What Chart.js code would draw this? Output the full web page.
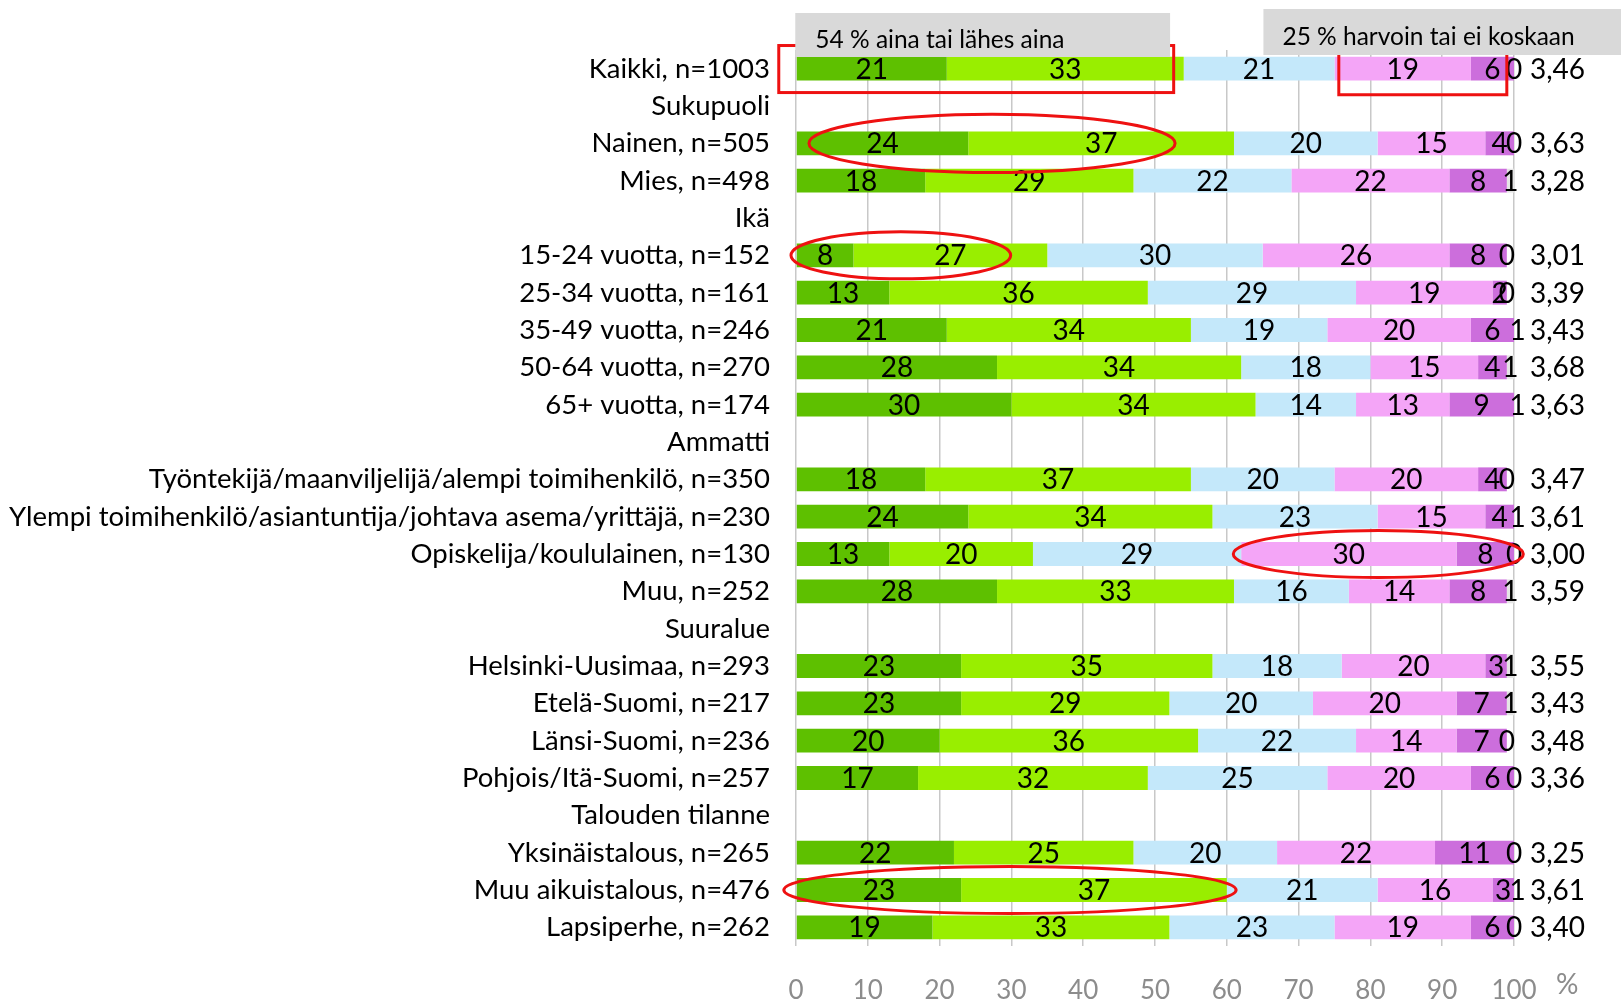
<!DOCTYPE html>
<html>
<head>
<meta charset="utf-8">
<script src="https://cdn.jsdelivr.net/npm/chart.js@4"></script>
<style>
  body { margin: 0; background: #fff; }
  #wrap { width: 1621px; height: 1000px; position: relative; }
</style>
</head>
<body>
<div id="wrap"><canvas id="chart"></canvas></div>
<script>
const categories = [
    'Kaikki, n=1003', 'Sukupuoli', 'Nainen, n=505', 'Mies, n=498', 'Ikä',
    '15-24 vuotta, n=152', '25-34 vuotta, n=161', '35-49 vuotta, n=246', '50-64 vuotta, n=270', '65+ vuotta, n=174',
    'Ammatti', 'Työntekijä/maanviljelijä/alempi toimihenkilö, n=350',
    'Ylempi toimihenkilö/asiantuntija/johtava asema/yrittäjä, n=230',
    'Opiskelija/koululainen, n=130', 'Muu, n=252',
    'Suuralue', 'Helsinki-Uusimaa, n=293', 'Etelä-Suomi, n=217', 'Länsi-Suomi, n=236', 'Pohjois/Itä-Suomi, n=257',
    'Talouden tilanne', 'Yksinäistalous, n=265', 'Muu aikuistalous, n=476', 'Lapsiperhe, n=262'
];

const alwaysVals  = [21, null, 24, 18, null, 8, 13, 21, 28, 30, null, 18, 24, 13, 28, null, 23, 23, 20, 17, null, 22, 23, 19];
const almostVals  = [33, null, 37, 29, null, 27, 36, 34, 34, 34, null, 37, 34, 20, 33, null, 35, 29, 36, 32, null, 25, 37, 33];
const sometimes   = [21, null, 20, 22, null, 30, 29, 19, 18, 14, null, 20, 23, 29, 16, null, 18, 20, 22, 25, null, 20, 21, 23];
const rarely      = [19, null, 15, 22, null, 26, 19, 20, 15, 13, null, 20, 15, 30, 14, null, 20, 20, 14, 20, null, 22, 16, 19];
const never       = [6, null, 4, 8, null, 8, 2, 6, 4, 9, null, 4, 4, 8, 8, null, 3, 7, 7, 6, null, 11, 3, 6];
const dontKnow    = [0, null, 0, 1, null, 0, 0, 1, 1, 1, null, 0, 1, 0, 1, null, 1, 1, 0, 0, null, 0, 1, 0];
const means = ['3,46', '', '3,63', '3,28', '', '3,01', '3,39', '3,43', '3,68', '3,63', '',
    '3,47', '3,61', '3,00', '3,59', '', '3,55', '3,43', '3,48', '3,36', '', '3,25', '3,61', '3,40'];

const xTicks = [0, 10, 20, 30, 40, 50, 60, 70, 80, 90, 100];

const FONT = 'Lato';

// annotations in data units: x in %, y in row index
const ellipses = [
    { row: 2, x0: 1.8, x1: 52.8, ry: 0.78 },
    { row: 5, x0: -0.7, x1: 29.9, ry: 0.63 },
    { row: 13, x0: 60.9, x1: 101.3, ry: 0.63 },
    { row: 22, x0: -1.7, x1: 61.3, ry: 0.63 }
];

const annotations = {
    id: 'annotations',
    afterDatasetsDraw(chart) {
        const ctx = chart.ctx;
        const xs = chart.scales.x;
        const ys = chart.scales.y;
        const area = chart.chartArea;
        const rowH = ys.getPixelForValue(1) - ys.getPixelForValue(0);

        // segment labels
        ctx.save();
        ctx.fillStyle = '#000';
        ctx.font = `28px ${FONT}`;
        ctx.textAlign = 'center';
        ctx.textBaseline = 'middle';
        chart.data.datasets.forEach((ds, di) => {
            const meta = chart.getDatasetMeta(di);
            meta.data.forEach((bar, i) => {
                const v = ds.data[i];
                if (v === null) return;
                ctx.fillText(String(v), (bar.x + bar.base) / 2, bar.y + 1);
            });
        });

        // mean values
        ctx.textAlign = 'left';
        means.forEach((m, i) => {
            if (!m) return;
            ctx.fillText(m, area.right + 16, ys.getPixelForValue(i) + 1);
        });

        // % sign after the axis
        ctx.fillStyle = '#8c8c8c';
        ctx.font = `28px ${FONT}`;
        ctx.fillText('%', area.right + 42, area.bottom + 39);
        ctx.restore();

        // red frames (partly hidden behind the gray boxes)
        ctx.save();
        ctx.strokeStyle = '#ee1111';
        ctx.lineWidth = 3;
        const y0 = ys.getPixelForValue(0);
        const r2l = xs.getPixelForValue(75.6), r2r = xs.getPixelForValue(99.0);
        ctx.beginPath();
        ctx.moveTo(r2l, y0 - 20);
        ctx.lineTo(r2l, y0 + rowH * 0.70);
        ctx.lineTo(r2r, y0 + rowH * 0.70);
        ctx.lineTo(r2r, y0 - 20);
        ctx.stroke();
        const r1l = xs.getPixelForValue(-2.4), r1r = xs.getPixelForValue(52.6);
        ctx.strokeRect(r1l, y0 - rowH * 0.62, r1r - r1l, rowH * 1.26);
        ctx.restore();

        // gray boxes
        ctx.save();
        ctx.fillStyle = '#d9d9d9';
        const b1l = xs.getPixelForValue(-0.1), b1r = xs.getPixelForValue(52.1);
        ctx.fillRect(b1l, area.top - 37, b1r - b1l, 44);
        const b2l = xs.getPixelForValue(65.1);
        ctx.fillRect(b2l, area.top - 41, chart.width - b2l, 46);
        ctx.fillStyle = '#000';
        ctx.font = `24.5px ${FONT}`;
        ctx.textAlign = 'left';
        ctx.textBaseline = 'alphabetic';
        ctx.fillText('54 % aina tai lähes aina', b1l + 20, area.top - 2);
        ctx.fillText('25 % harvoin tai ei koskaan', b2l + 19, area.top - 5);
        ctx.restore();

        // ellipses
        ctx.save();
        ctx.strokeStyle = '#ee1111';
        ctx.lineWidth = 3;
        ellipses.forEach(e => {
            const l = xs.getPixelForValue(e.x0), r = xs.getPixelForValue(e.x1);
            const cy = ys.getPixelForValue(e.row);
            ctx.beginPath();
            ctx.ellipse((l + r) / 2, cy, (r - l) / 2, rowH * e.ry, 0, 0, Math.PI * 2);
            ctx.stroke();
        });
        ctx.restore();
    }
};

const seriesColors = ['#5ec000', '#99ee00', '#c4e8fa', '#f4a5f7', '#cc6edc', '#e4e4e4'];
const seriesData = [alwaysVals, almostVals, sometimes, rarely, never, dontKnow];

new Chart(document.getElementById('chart'), {
    type: 'bar',
    data: {
        labels: categories,
        datasets: seriesData.map((d, i) => ({
            data: d,
            backgroundColor: seriesColors[i],
            borderWidth: 0,
            barPercentage: 0.64,
            categoryPercentage: 1
        }))
    },
    options: {
        indexAxis: 'y',
        responsive: true,
        maintainAspectRatio: false,
        animation: false,
        events: [],
        layout: { padding: { top: 50, right: 107, left: 0, bottom: 0 } },
        plugins: {
            legend: { display: false },
            tooltip: { enabled: false }
        },
        scales: {
            x: {
                stacked: true,
                min: 0,
                max: 100,
                afterBuildTicks: s => { s.ticks = xTicks.map(v => ({ value: v })); },
                afterFit: s => { s.height = 54; },
                grid: { color: '#c8c8c8', lineWidth: 1.5, drawTicks: false },
                border: { display: false },
                ticks: { color: '#8c8c8c', font: { family: FONT, size: 26 }, padding: 29 }
            },
            y: {
                stacked: true,
                afterFit: s => { s.width = 796; },
                grid: { display: false, drawTicks: false },
                border: { display: false },
                ticks: { color: '#000', font: { family: FONT, size: 27.5 }, padding: 26, autoSkip: false }
            }
        }
    },
    plugins: [annotations]
});
</script>
</body>
</html>
